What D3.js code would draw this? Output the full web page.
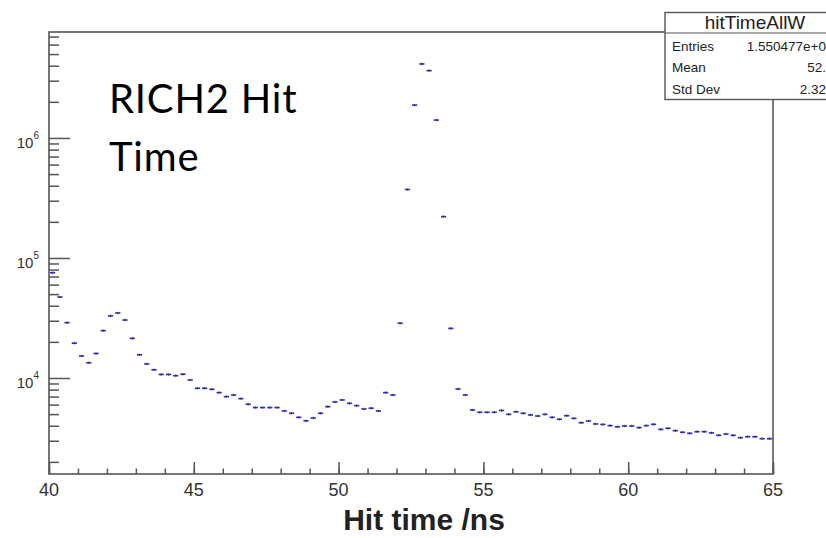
<!DOCTYPE html>
<html>
<head>
<meta charset="utf-8">
<script src="https://cdn.jsdelivr.net/npm/d3@7"></script>
<style>
  body { margin: 0; background: #fff; }
  svg { display: block; }
</style>
</head>
<body>
<div id="chart"></div>
<script>

// histogram: 100 bins of 0.25 ns from 40 to 65 ns
const binStart = 40
const binWidth = 0.25
const counts = [
    75400, 47300, 28900, 19500, 15250, 13400, 16000, 24800, 32900, 34800,
    30400, 21400, 15600, 13100, 11700, 10700, 10700, 10450, 10750, 9620,
    8210, 8210, 8050, 7550, 6990, 7210, 6730, 6040, 5670, 5670,
    5670, 5670, 5310, 5080, 4700, 4400, 4640, 5080, 5770, 6310,
    6560, 6150, 5880, 5520, 5600, 5310, 7550, 7210, 28600, 372000,
    1880000, 4140000, 3640000, 1410000, 221000, 25900, 8100, 7210, 5410, 5180,
    5180, 5180, 5360, 4980, 5230, 5080, 4920, 4820, 4980, 4700,
    4530, 4850, 4610, 4240, 4380, 4140, 4100, 4010, 3920, 3980,
    3980, 3860, 4010, 4110, 3730, 3810, 3640, 3530, 3460, 3570,
    3570, 3490, 3330, 3410, 3330, 3180, 3240, 3240, 3120, 3120
]

const xTicks = [40, 45, 50, 55, 60, 65]
const yDecades = [4, 5, 6]

const statsTitle = "hitTimeAllW"
const statsLabels = ["Entries", "Mean", "Std Dev"]
const statsValues = ["1.550477e+0", "52.", "2.32"]

const axisTitle = "Hit time /ns"
const noteLines = ["RICH2 Hit", "Time"]

// Create SVG
let outerWidth = 826
let outerHeight = 538
let margin = {top: 32, bottom: 64, left: 49, right: 53}
let width = outerWidth - margin.left - margin.right
let height = outerHeight - margin.top - margin.bottom

const svg = d3.select("#chart")
    .append("svg")
    .attr("width", outerWidth)
    .attr("height", outerHeight)

svg.append("rect")
    .attr("width", outerWidth)
    .attr("height", outerHeight)
    .attr("fill", "white")

const g = svg.append("g")
    .attr("transform", `translate(${margin.left}, ${margin.top})`)

const x = d3.scaleLinear()
    .domain([40, 65])
    .range([0, width])

const y = d3.scaleLog()
    .domain([Math.pow(10, 3.2), Math.pow(10, 6.883)])
    .range([height, 0])

const frameColor = "#555"
const font = "Liberation Sans, Arial, sans-serif"

// minor y ticks (2..9 x 10^n) and major decades
let minorY = []
for (let e = 3; e <= 6; e++) {
    for (let k = 2; k <= 9; k++) {
        let v = k * Math.pow(10, e)
        if (v >= y.domain()[0] && v <= y.domain()[1]) minorY.push(v)
    }
}
const majorY = yDecades.map(e => Math.pow(10, e))

g.append("g")
    .attr("class", "y-minor")
    .call(d3.axisLeft(y).tickValues(minorY).tickSize(-10).tickFormat(""))
g.append("g")
    .attr("class", "y-major")
    .call(d3.axisLeft(y).tickValues(majorY).tickSize(-21).tickFormat(""))

// x ticks: every 1 ns minor, every 5 ns major
g.append("g")
    .attr("class", "x-minor")
    .attr("transform", `translate(0, ${height})`)
    .call(d3.axisBottom(x).ticks(25).tickSize(-5.5).tickFormat(""))
g.append("g")
    .attr("class", "x-major")
    .attr("transform", `translate(0, ${height})`)
    .call(d3.axisBottom(x).tickValues(xTicks).tickSize(-12).tickFormat(""))

g.selectAll(".tick line")
    .attr("stroke", frameColor)
    .attr("stroke-width", 1.5)
g.selectAll(".domain").remove()

// frame
g.append("rect")
    .attr("width", width)
    .attr("height", height)
    .attr("fill", "none")
    .attr("stroke", frameColor)
    .attr("stroke-width", 1.6)

// x tick labels
g.selectAll(".xlab")
    .data(xTicks)
    .enter()
    .append("text")
    .attr("class", "xlab")
    .attr("x", d => x(d))
    .attr("y", height + 22)
    .attr("text-anchor", "middle")
    .attr("font-family", font)
    .attr("font-size", 18)
    .attr("fill", "#333")
    .text(d => d)

// y tick labels 10^n
const ylab = g.selectAll(".ylab")
    .data(yDecades)
    .enter()
    .append("text")
    .attr("class", "ylab")
    .attr("x", -10)
    .attr("y", d => y(Math.pow(10, d)) + 10)
    .attr("text-anchor", "end")
    .attr("font-family", font)
    .attr("font-size", 15)
    .attr("fill", "#333")
ylab.append("tspan").text("10")
ylab.append("tspan")
    .attr("dy", -9)
    .attr("font-size", 10)
    .text(d => d)

// histogram markers: horizontal bin bar + tiny error tick
const bins = counts.map((c, i) => ({x0: binStart + i * binWidth, x1: binStart + (i + 1) * binWidth, v: c}))
const markColor = "#3030aa"

const marks = g.append("g").attr("class", "marks")
marks.selectAll("line.bin")
    .data(bins)
    .enter()
    .append("line")
    .attr("class", "bin")
    .attr("x1", d => x(d.x0) + 1)
    .attr("x2", d => x(d.x1) - 1)
    .attr("y1", d => y(d.v))
    .attr("y2", d => y(d.v))
    .attr("stroke", markColor)
    .attr("stroke-width", 1.6)
marks.selectAll("line.err")
    .data(bins)
    .enter()
    .append("line")
    .attr("class", "err")
    .attr("x1", d => x((d.x0 + d.x1) / 2))
    .attr("x2", d => x((d.x0 + d.x1) / 2))
    .attr("y1", d => y(d.v) - 1.2)
    .attr("y2", d => y(d.v) + 1.2)
    .attr("stroke", markColor)
    .attr("stroke-width", 1)

// axis title
svg.append("text")
    .attr("x", 424)
    .attr("y", 530)
    .attr("text-anchor", "middle")
    .attr("font-family", font)
    .attr("font-weight", "bold")
    .attr("font-size", 30)
    .attr("fill", "#222")
    .text(axisTitle)

// annotation
svg.selectAll(".note")
    .data(noteLines)
    .enter()
    .append("text")
    .attr("class", "note")
    .attr("x", 109)
    .attr("y", (d, i) => 113 + i * 58)
    .attr("font-family", "Lato, 'Open Sans', sans-serif")
    .attr("font-size", 40)
    .attr("letter-spacing", 0.8)
    .attr("fill", "#000")
    .text(d => d)

// stats box
const box = svg.append("g").attr("class", "stats")
box.append("rect")
    .attr("x", 665)
    .attr("y", 12.5)
    .attr("width", 175)
    .attr("height", 87)
    .attr("fill", "white")
    .attr("stroke", frameColor)
    .attr("stroke-width", 1.4)
box.append("line")
    .attr("x1", 665).attr("x2", 840)
    .attr("y1", 33).attr("y2", 33)
    .attr("stroke", frameColor)
    .attr("stroke-width", 1.2)
box.append("text")
    .attr("x", 755)
    .attr("y", 29)
    .attr("text-anchor", "middle")
    .attr("font-family", font)
    .attr("font-size", 19)
    .attr("fill", "#222")
    .text(statsTitle)
box.selectAll(".slab")
    .data(statsLabels)
    .enter()
    .append("text")
    .attr("class", "slab")
    .attr("x", 672)
    .attr("y", (d, i) => 50.5 + i * 21.8)
    .attr("font-family", font)
    .attr("font-size", 13.5)
    .attr("fill", "#222")
    .text(d => d)
box.selectAll(".sval")
    .data(statsValues)
    .enter()
    .append("text")
    .attr("class", "sval")
    .attr("x", 826)
    .attr("y", (d, i) => 50.5 + i * 21.8)
    .attr("text-anchor", "end")
    .attr("font-family", font)
    .attr("font-size", 13.5)
    .attr("fill", "#222")
    .text(d => d)

</script>
</body>
</html>
